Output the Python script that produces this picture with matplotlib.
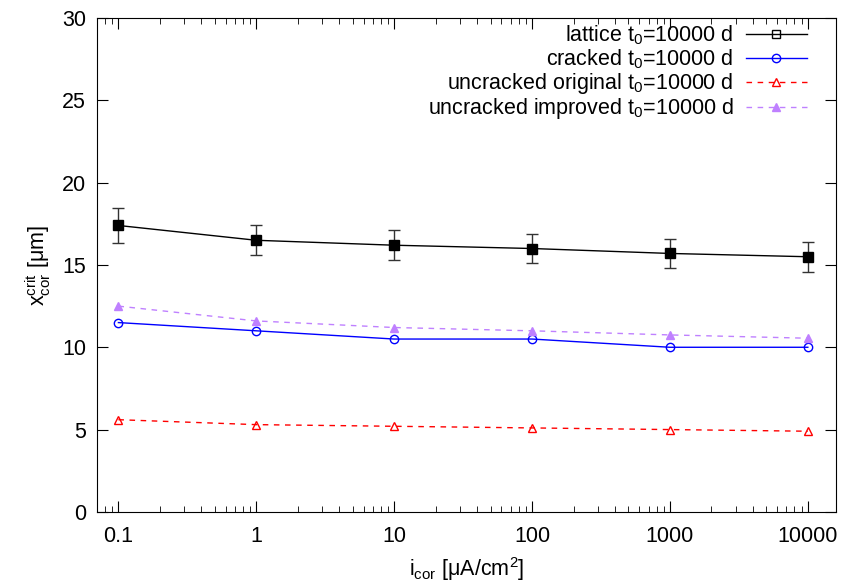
import numpy as np
import matplotlib
matplotlib.use('Agg')
import matplotlib.pyplot as plt
from matplotlib.lines import Line2D

plt.rcParams['font.family'] = ['Liberation Sans', 'DejaVu Sans']
plt.rcParams['mathtext.fontset'] = 'custom'
plt.rcParams['mathtext.rm'] = 'Liberation Sans'
plt.rcParams['mathtext.it'] = 'Liberation Sans'

icor = [0.1, 1, 10, 100, 1000, 10000]
lattice = [17.4, 16.5, 16.2, 16.0, 15.7, 15.5]
lattice_err = [1.05, 0.9, 0.9, 0.9, 0.9, 0.9]
cracked = [11.5, 11.0, 10.5, 10.5, 10.0, 10.0]
uncr_orig = [5.6, 5.3, 5.2, 5.1, 5.0, 4.9]
uncr_impr = [12.5, 11.6, 11.2, 11.0, 10.75, 10.55]

labels = [r'lattice t$_0$=10000 d', r'cracked t$_0$=10000 d',
          r'uncracked original t$_0$=10000 d', r'uncracked improved t$_0$=10000 d']

fs = 15.5
fig = plt.figure(figsize=(8.44, 5.83), dpi=100)
ax = fig.add_axes([0.115, 0.122, 0.8755, 0.847])

ax.errorbar(icor, lattice, yerr=lattice_err, color='black', lw=1, marker='s', ms=7,
            capsize=4, elinewidth=1, ecolor='#333333')
ax.plot(icor, cracked, color='blue', lw=1, marker='o', ms=6, mfc='none', mew=1)
ax.plot(icor, uncr_orig, color='red', lw=1, ls=(0, (4, 4)), marker='^', ms=5.5, mfc='none', mew=1)
ax.plot(icor, uncr_impr, color='#bf80ff', lw=1, ls=(0, (4, 4)), marker='^', ms=5.5)

handles = [
    Line2D([], [], color='black', lw=1, marker='s', ms=6, mfc='none'),
    Line2D([], [], color='blue', lw=1, marker='o', ms=6, mfc='none'),
    Line2D([], [], color='red', lw=1, ls=(0, (4, 4)), marker='^', ms=5.5, mfc='none'),
    Line2D([], [], color='#bf80ff', lw=1, ls=(0, (4, 4)), marker='^', ms=5.5),
]
leg = ax.legend(handles, labels, loc='upper right', markerfirst=False, frameon=False,
                fontsize=fs, handlelength=2.8, labelspacing=0.0, borderaxespad=0.0,
                handletextpad=0.6, borderpad=0.2, bbox_to_anchor=(0.966, 0.997))
for t in leg.get_texts():
    t.set_ha('right')
leg._legend_box.align = 'right'

ax.set_xscale('log')
ax.set_xlim(0.07, 16000)
ax.set_ylim(0, 30)
ax.set_yticks(np.arange(0, 31, 5))
ax.set_xticks(icor)
ax.set_xticklabels(['0.1', '1', '10', '100', '1000', '10000'])
ax.tick_params(which='both', direction='in', top=True, right=True, labelsize=fs)
ax.tick_params(which='major', length=8)
ax.tick_params(which='minor', length=4)
ax.tick_params(axis='x', pad=10)
ax.tick_params(axis='y', pad=8)
ax.set_xlabel(r'i$_{\rm cor}$ [$\mu$A/cm$^2$]', fontsize=fs, labelpad=6)
ax.set_ylabel(r'x$_{\rm cor}^{\rm crit}$ [$\mu$m]', fontsize=fs, labelpad=6)

fig.savefig('out.png', dpi=100)
